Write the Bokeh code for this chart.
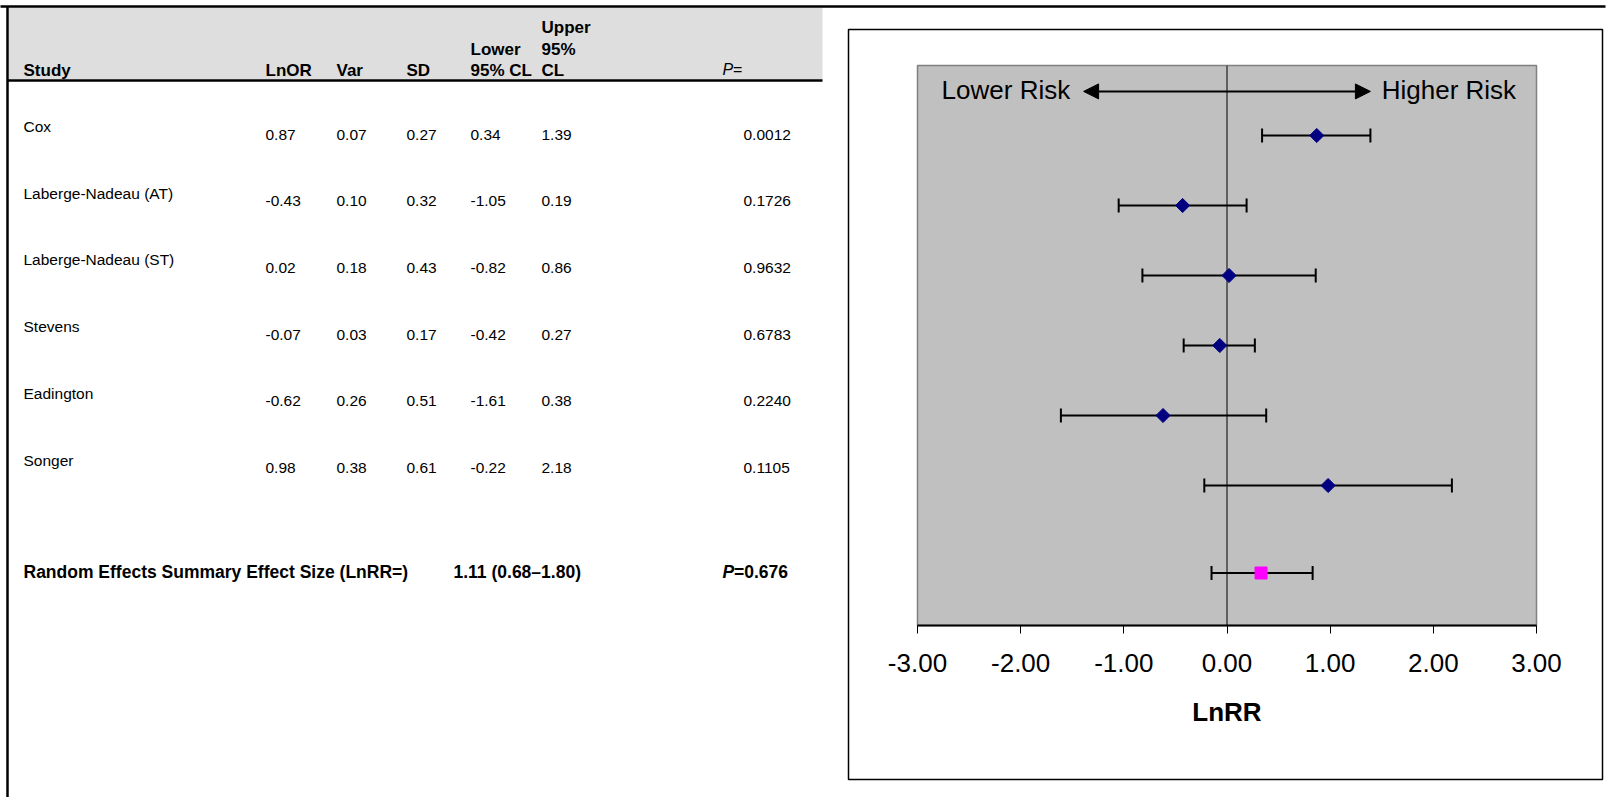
import numpy as np
from bokeh.plotting import figure
from bokeh.models import (Range1d, FixedTicker, NumeralTickFormatter, ColumnDataSource,
                          Whisker, TeeHead, Arrow, NormalHead, Label, Span)
from bokeh.embed import file_html
from bokeh.resources import INLINE
from bokeh.core.properties import value

# ---------------- data ----------------
studies = ["Cox", "Laberge-Nadeau (AT)", "Laberge-Nadeau (ST)", "Stevens", "Eadington", "Songer"]
lnor = [0.87, -0.43, 0.02, -0.07, -0.62, 0.98]
var = [0.07, 0.10, 0.18, 0.03, 0.26, 0.38]
sd = [0.27, 0.32, 0.43, 0.17, 0.51, 0.61]
lower_cl = [0.34, -1.05, -0.82, -0.42, -1.61, -0.22]
upper_cl = [1.39, 0.19, 0.86, 0.27, 0.38, 2.18]
p_values = ["0.0012", "0.1726", "0.9632", "0.6783", "0.2240", "0.1105"]

summary_label = "Random Effects Summary Effect Size (LnRR=)"
summary_ci_text = "1.11 (0.68\u20131.80)"
summary_p = "0.676"
summary_est = [0.33]
summary_lo = [-0.15]
summary_hi = [0.83]

x_ticks = [-3, -2, -1, 0, 1, 2, 3]
x_label = "LnRR"
left_note = "Lower Risk"
right_note = "Higher Risk"

FONT = "Liberation Sans"

# ---------------- figure (one canvas; frame = forest plot area) ----------------
W, H = 1610, 797
PL, PR, PT, PB = 917, 1536, 65, 625
p = figure(width=W, height=H, x_range=Range1d(-3, 3), y_range=Range1d(8, 0),
           output_backend="svg", toolbar_location=None,
           min_border_left=PL, min_border_right=W - PR, min_border_top=PT, min_border_bottom=H - PB,
           background_fill_color="#C0C0C0", border_fill_color="white",
           outline_line_color="#808080", outline_line_width=1.5, y_axis_location=None)
p.grid.visible = False
# pixel-like ranges for the page furniture (table, frames)
p.extra_x_ranges = {"px": Range1d(PL, PR)}
p.extra_y_ranges = {"px": Range1d(PB, PT)}
PX = dict(x_range_name="px", y_range_name="px", level="overlay")

# header band
p.quad(left=[8.5], right=[822], top=[7], bottom=[79], fill_color="#DEDEDE", line_color=None, **PX)
# page frame lines
p.segment(x0=[0, 7, 7], y0=[6, 6, 80], x1=[1605, 7, 822], y1=[6, 798, 80],
          line_color="black", line_width=2.5, **PX)
# chart box
p.quad(left=[848], right=[1602], top=[29], bottom=[779], fill_color=None,
       line_color="black", line_width=1.5, **PX)


def txt(xs, ys, texts, size="15.5px", style="normal", align="left"):
    # y values are the visual centre of the text line
    p.text(x=xs, y=ys, text=texts, text_font=value(FONT), text_font_size=size,
           text_font_style=style, text_color="black", text_align=align,
           text_baseline="alphabetic", **PX)


col_x = {"study": 23, "lnor": 265, "var": 336, "sd": 406, "lo": 470, "hi": 541, "p": 722}
HB = "17px"
hdr_c = 70
line_gap = 21.5
hx = [col_x["study"], col_x["lnor"], col_x["var"], col_x["sd"], col_x["lo"], col_x["hi"]]
txt(hx, [hdr_c] * 6, ["Study", "LnOR", "Var", "SD", "95% CL", "CL"], size=HB, style="bold")
txt([col_x["lo"], col_x["hi"]], [hdr_c - line_gap] * 2, ["Lower", "95%"], size=HB, style="bold")
txt([col_x["hi"]], [hdr_c - 2 * line_gap], ["Upper"], size=HB, style="bold")
txt([col_x["p"]], [hdr_c - 1], ["P"], size="16px", style="italic")
txt([col_x["p"] + 10.5], [hdr_c - 1], ["="], size="16px")

n = len(studies)
row_gap = 66.7
name_y = [126 + i * row_gap for i in range(n)]
val_y = [134 + i * row_gap for i in range(n)]
fmt = lambda arr: [f"{v:.2f}" for v in arr]
txt([col_x["study"]] * n, name_y, studies)
for key, arr in [("lnor", lnor), ("var", var), ("sd", sd), ("lo", lower_cl), ("hi", upper_cl)]:
    txt([col_x[key]] * n, val_y, fmt(arr))
txt([col_x["p"] + 21] * n, val_y, p_values)

SB = "17.5px"
sum_c = 571
txt([col_x["study"]], [sum_c], [summary_label], size=SB, style="bold")
txt([col_x["lo"] - 17], [sum_c], [summary_ci_text], size=SB, style="bold")
txt([col_x["p"]], [sum_c], ["P"], size=SB, style="bold italic")
txt([col_x["p"] + 11.5], [sum_c], ["=" + summary_p], size=SB, style="bold")

# ---------------- forest plot ----------------
ax = p.xaxis[0]
ax.ticker = FixedTicker(ticks=x_ticks)
ax.formatter = NumeralTickFormatter(format="0.00")
ax.major_label_text_font = FONT
ax.major_label_text_font_size = "26px"
ax.major_label_text_color = "black"
ax.major_label_standoff = 20
ax.major_tick_out = 8
ax.major_tick_in = 0
ax.major_tick_line_color = "black"
ax.minor_tick_line_color = None
ax.axis_line_color = "black"
ax.axis_line_width = 2
ax.axis_label = x_label
ax.axis_label_text_font = FONT
ax.axis_label_text_font_size = "26px"
ax.axis_label_text_font_style = "bold"
ax.axis_label_text_color = "black"
ax.axis_label_standoff = 22

p.add_layout(Span(location=0, dimension="height", line_color="black", line_width=1, level="underlay"))

rows_y = list(range(1, n + 1))
src = ColumnDataSource(dict(y=rows_y, est=lnor, lo=lower_cl, hi=upper_cl))


def add_whisker(source):
    p.add_layout(Whisker(source=source, base="y", lower="lo", upper="hi", dimension="width",
                         line_color="black", line_width=2, level="underlay",
                         lower_head=TeeHead(size=14, line_width=2, line_color="black"),
                         upper_head=TeeHead(size=14, line_width=2, line_color="black")))


add_whisker(src)
p.scatter(x="est", y="y", source=src, marker="square", angle=np.pi / 4, size=10,
          fill_color="#000080", line_color="#000080")

sum_row = n + 1.25
ssrc = ColumnDataSource(dict(y=[sum_row], est=summary_est, lo=summary_lo, hi=summary_hi))
add_whisker(ssrc)
p.scatter(x="est", y="y", source=ssrc, marker="square", size=12,
          fill_color="#FF00FF", line_color="#FF00FF")

arrow_y = 0.37
p.add_layout(Arrow(x_start=-1.39, y_start=arrow_y, x_end=1.39, y_end=arrow_y,
                   line_color="black", line_width=2,
                   start=NormalHead(size=15, fill_color="black", line_color="black"),
                   end=NormalHead(size=15, fill_color="black", line_color="black")))
label_y = 0.35
p.add_layout(Label(x=-1.52, y=label_y, text=left_note, text_align="right", text_baseline="alphabetic",
                   text_font=FONT, text_font_size="26px", text_color="black"))
p.add_layout(Label(x=1.50, y=label_y, text=right_note, text_align="left", text_baseline="alphabetic",
                   text_font=FONT, text_font_size="26px", text_color="black"))

open("out.html", "w").write(file_html(p, INLINE))
